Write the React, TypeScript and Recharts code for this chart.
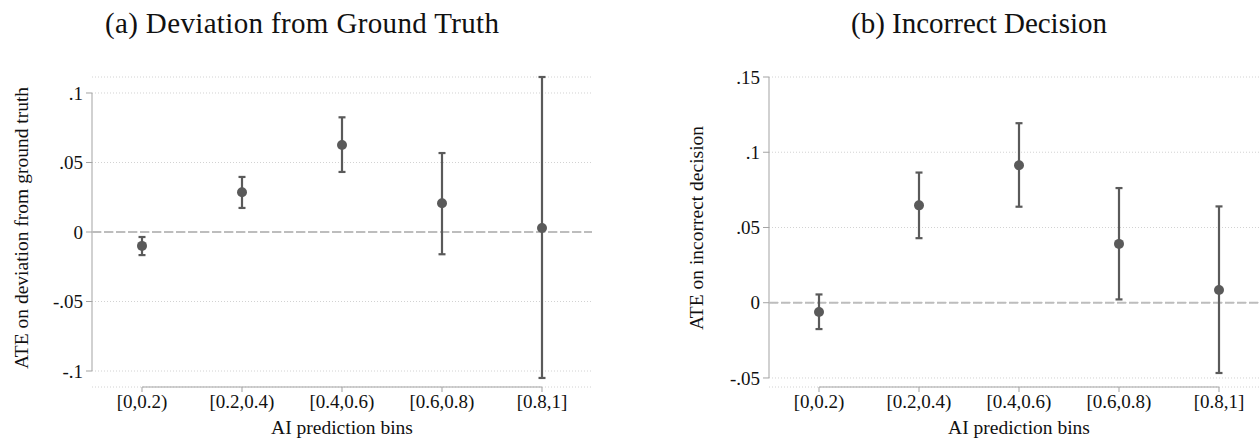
import { ComposedChart, Line, ErrorBar, XAxis, YAxis, CartesianGrid, ReferenceLine, Label } from 'recharts';

const bins = ['[0,0.2)', '[0.2,0.4)', '[0.4,0.6)', '[0.6,0.8)', '[0.8,1]'];
const binPos = [0, 1, 2, 3, 4];

// (a) deviation from ground truth: point estimate and 95% CI
const devEst = [-0.010, 0.0286, 0.0626, 0.0207, 0.0029];
const devLo = [-0.0166, 0.0173, 0.0432, -0.016, -0.105];
const devHi = [-0.0036, 0.0396, 0.0825, 0.0568, 0.1115];
const devTicks = [-0.1, -0.05, 0, 0.05, 0.1];
const devTickLabels = ['-.1', '-.05', '0', '.05', '.1'];

// (b) incorrect decision
const incEst = [-0.0062, 0.0647, 0.0913, 0.0391, 0.0085];
const incLo = [-0.0175, 0.0429, 0.0638, 0.0022, -0.0467];
const incHi = [0.0055, 0.0865, 0.1193, 0.0762, 0.064];
const incTicks = [-0.05, 0, 0.05, 0.1, 0.15];
const incTickLabels = ['-.05', '0', '.05', '.1', '.15'];

const FONT = '"Liberation Serif", "Times New Roman", serif';
const INK = '#5a5a5a';
const AXIS = '#a3a3a3';

function rows(est: number[], lo: number[], hi: number[]) {
  return binPos.map((x, i) => ({ x, est: est[i], err: [est[i] - lo[i], hi[i] - est[i]] }));
}

function XTitle({ viewBox, value }: any) {
  return (
    <text x={viewBox.x + 250} y={viewBox.y + 47} textAnchor="middle" fill="#111" fontSize={19.5} fontFamily={FONT}>
      {value}
    </text>
  );
}

function makeYTitle(cx: number) {
  return function YTitle({ viewBox, value }: any) {
    const cy = viewBox.y + viewBox.height / 2 - 4;
    return (
      <text
        x={cx}
        y={cy}
        transform={`rotate(-90 ${cx} ${cy})`}
        textAnchor="middle"
        dominantBaseline="central"
        fill="#111"
        fontSize={19.5}
        fontFamily={FONT}
      >
        {value}
      </text>
    );
  };
}

interface PanelProps {
  left: number;
  width: number;
  axisW: number;
  xMax: number;
  yDomain: [number, number];
  ticks: number[];
  tickLabels: string[];
  data: { x: number; est: number; err: number[] }[];
  yTitle: string;
  yTitleX: number;
}

function Panel({ left, width, axisW, xMax, yDomain, ticks, tickLabels, data, yTitle, yTitleX }: PanelProps) {
  const tickStyle = { fill: '#111', fontSize: 19, fontFamily: FONT };
  return (
    <div style={{ position: 'absolute', left, top: 0 }}>
      <ComposedChart width={width} height={440} data={data} margin={{ top: 77, right: 0, bottom: 23, left: 0 }}>
        <CartesianGrid vertical={false} stroke="#d2d2d2" strokeDasharray="1 2" />
        <XAxis
          type="number"
          dataKey="x"
          domain={[-0.5, xMax]}
          ticks={binPos}
          interval={0}
          allowDataOverflow
          tickFormatter={(v) => bins[v]}
          axisLine={false}
          tickLine={{ stroke: AXIS }}
          tickSize={5}
          tickMargin={3}
          height={30}
          tick={tickStyle}
        >
          <Label value="AI prediction bins" content={XTitle} />
        </XAxis>
        <YAxis
          type="number"
          domain={yDomain}
          allowDataOverflow
          ticks={ticks}
          interval={0}
          tickFormatter={(v) => tickLabels[ticks.indexOf(v)]}
          axisLine={false}
          tickLine={{ stroke: AXIS }}
          tickSize={6}
          tickMargin={3}
          width={axisW}
          tick={tickStyle}
        >
          <Label value={yTitle} content={makeYTitle(yTitleX)} />
        </YAxis>
        <ReferenceLine
          ifOverflow="visible"
          segment={[{ x: -0.5, y: ticks[0] }, { x: -0.5, y: ticks[ticks.length - 1] }]}
          stroke={AXIS}
          strokeWidth={1}
        />
        <ReferenceLine
          ifOverflow="visible"
          segment={[{ x: 0, y: yDomain[0] }, { x: 4, y: yDomain[0] }]}
          stroke={AXIS}
          strokeWidth={1}
        />
        <ReferenceLine y={0} stroke="#bdbdbd" strokeWidth={2} strokeDasharray="9 3" />
        <Line
          dataKey="est"
          stroke="none"
          strokeWidth={0}
          dot={{ r: 5, fill: INK, stroke: 'none' }}
          activeDot={false}
          isAnimationActive={false}
        >
          <ErrorBar dataKey="err" direction="y" width={3.5} stroke={INK} strokeWidth={2.2} isAnimationActive={false} />
        </Line>
      </ComposedChart>
    </div>
  );
}

export default function App() {
  const titleStyle = { fill: '#111', fontSize: 29, fontFamily: FONT };
  return (
    <div style={{ position: 'absolute', left: 0, top: 0, width: 1260, height: 440, background: '#fff', overflow: 'hidden' }}>
      <Panel
        left={0}
        width={592}
        axisW={92}
        xMax={4.5}
        yDomain={[-0.1115, 0.1115]}
        ticks={devTicks}
        tickLabels={devTickLabels}
        data={rows(devEst, devLo, devHi)}
        yTitle="ATE on deviation from ground truth"
        yTitleX={21}
      />
      <Panel
        left={630}
        width={630}
        axisW={139}
        xMax={4.41}
        yDomain={[-0.056, 0.15]}
        ticks={incTicks}
        tickLabels={incTickLabels}
        data={rows(incEst, incLo, incHi)}
        yTitle="ATE on incorrect decision"
        yTitleX={66}
      />
      <svg width={1260} height={60} style={{ position: 'absolute', left: 0, top: 0, pointerEvents: 'none' }}>
        <text x={302} y={33} textAnchor="middle" textLength={394} lengthAdjust="spacing" {...titleStyle}>
          (a) Deviation from Ground Truth
        </text>
        <text x={979} y={33} textAnchor="middle" textLength={256} lengthAdjust="spacing" {...titleStyle}>
          (b) Incorrect Decision
        </text>
      </svg>
    </div>
  );
}
